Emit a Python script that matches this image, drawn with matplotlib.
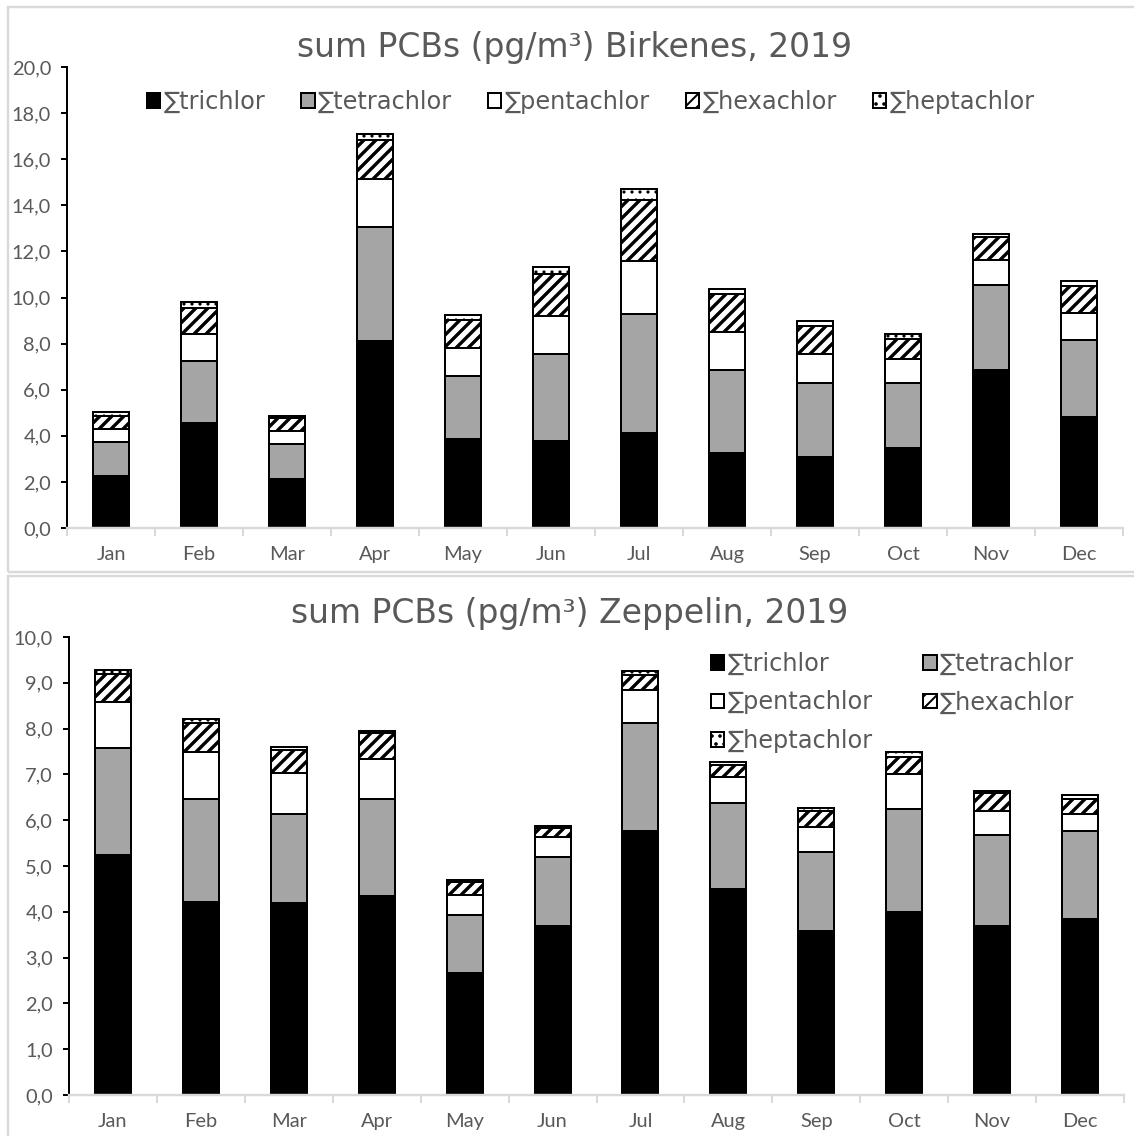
import matplotlib
matplotlib.use('Agg')
import matplotlib.pyplot as plt
from matplotlib.patches import Rectangle
from matplotlib.ticker import FuncFormatter, MultipleLocator

months = ['Jan', 'Feb', 'Mar', 'Apr', 'May', 'Jun', 'Jul', 'Aug', 'Sep', 'Oct', 'Nov', 'Dec']
series_names = ['∑trichlor', '∑tetrachlor', '∑pentachlor', '∑hexachlor', '∑heptachlor']

# Birkenes 2019 (pg/m3)
birkenes_trichlor = [2.27, 4.54, 2.13, 8.10, 3.85, 3.79, 4.13, 3.27, 3.09, 3.46, 6.85, 4.83]
birkenes_tetrachlor = [1.45, 2.70, 1.51, 4.97, 2.74, 3.76, 5.15, 3.58, 3.21, 2.82, 3.71, 3.33]
birkenes_pentachlor = [0.58, 1.17, 0.58, 2.09, 1.23, 1.65, 2.32, 1.64, 1.23, 1.07, 1.07, 1.15]
birkenes_hexachlor = [0.57, 1.15, 0.57, 1.67, 1.20, 1.84, 2.63, 1.66, 1.25, 0.85, 0.98, 1.20]
birkenes_heptachlor = [0.18, 0.23, 0.07, 0.26, 0.23, 0.29, 0.49, 0.23, 0.21, 0.22, 0.14, 0.21]

# Zeppelin 2019 (pg/m3)
zeppelin_trichlor = [5.25, 4.22, 4.19, 4.35, 2.66, 3.70, 5.77, 4.50, 3.57, 3.99, 3.70, 3.84]
zeppelin_tetrachlor = [2.32, 2.24, 1.95, 2.11, 1.26, 1.49, 2.35, 1.87, 1.74, 2.25, 1.98, 1.92]
zeppelin_pentachlor = [1.01, 1.03, 0.88, 0.88, 0.45, 0.44, 0.72, 0.58, 0.55, 0.76, 0.52, 0.37]
zeppelin_hexachlor = [0.61, 0.63, 0.51, 0.57, 0.27, 0.21, 0.33, 0.26, 0.33, 0.39, 0.39, 0.33]
zeppelin_heptachlor = [0.09, 0.09, 0.06, 0.04, 0.05, 0.04, 0.09, 0.07, 0.08, 0.09, 0.05, 0.08]

W, H, DPI = 1134, 1136, 144
TEXT_GREY = '#595959'
LINE_GREY = '#d9d9d9'

# facecolor, hatch, hatch linewidth
styles = [('black', None, 1.0), ('#a5a5a5', None, 1.0), ('white', None, 1.0),
          ('white', '////', 1.7), ('white', '...', 0.8)]


def draw_station(ax, data, ymax, ystep):
    bottom = [0.0] * len(months)
    x = range(len(months))
    handles = []
    for name, values, (fc, hatch, hlw) in zip(series_names, data, styles):
        with plt.rc_context({'hatch.linewidth': hlw}):
            bars = ax.bar(x, values, width=0.41, bottom=bottom, color=fc, hatch=hatch,
                          edgecolor='black', linewidth=1.0, label=name, zorder=2)
        handles.append(bars)
        bottom = [b + v for b, v in zip(bottom, values)]

    ax.set_xlim(-0.5, len(months) - 0.5)
    ax.set_ylim(0, ymax)
    ax.yaxis.set_major_locator(MultipleLocator(ystep))
    ax.yaxis.set_major_formatter(FuncFormatter(lambda v, p: f'{v:.1f}'.replace('.', ',')))
    ax.tick_params(axis='y', direction='out', length=3, width=1, color='black',
                   labelsize=10, labelcolor=TEXT_GREY, pad=5)

    # category boundaries carry the tick marks, centres carry the labels
    ax.set_xticks([i - 0.5 for i in range(len(months) + 1)])
    ax.set_xticklabels([])
    ax.set_xticks(list(x), months, minor=True)
    ax.tick_params(axis='x', which='major', direction='out', length=4, width=1, color=LINE_GREY)
    ax.tick_params(axis='x', which='minor', length=0, labelsize=10, labelcolor=TEXT_GREY, pad=9)

    for side in ['top', 'right']:
        ax.spines[side].set_visible(False)
    ax.spines['left'].set_linewidth(1.0)
    ax.spines['left'].set_color('black')
    ax.spines['bottom'].set_linewidth(1.2)
    ax.spines['bottom'].set_color(LINE_GREY)
    ax.spines['bottom'].set_zorder(3)
    for lab in ax.get_xticklabels(minor=True) + ax.get_yticklabels():
        lab.set_fontfamily('Lato')
    return handles


plt.rcParams['font.family'] = ['DejaVu Sans']
fig = plt.figure(figsize=(W / DPI, H / DPI), dpi=DPI)

# light grey chart frames
fig.add_artist(Rectangle((8 / W, 1 - 572 / H), 1.2, (572 - 7) / H, transform=fig.transFigure,
                         fill=False, edgecolor=LINE_GREY, linewidth=1.2))
fig.add_artist(Rectangle((8 / W, -0.1), 1.2, 0.1 + (1136 - 576) / H, transform=fig.transFigure,
                         fill=False, edgecolor=LINE_GREY, linewidth=1.2))

ax1 = fig.add_axes([67 / W, 1 - 528 / H, (1123 - 67) / W, (528 - 67) / H])
h1 = draw_station(ax1, [birkenes_trichlor, birkenes_tetrachlor, birkenes_pentachlor,
                        birkenes_hexachlor, birkenes_heptachlor], 20, 2)
fig.text(575 / W, 1 - 48 / H, 'sum PCBs (pg/m³) Birkenes, 2019', ha='center', va='center',
         fontsize=16.5, color=TEXT_GREY)
fig.legend(h1, series_names, loc='center', bbox_to_anchor=(591 / W, 1 - 102 / H), ncol=5,
           frameon=False, fontsize=12, handlelength=0.55, handleheight=0.55, handletextpad=0.15,
           columnspacing=1.5, borderpad=0, labelcolor=TEXT_GREY)

ax2 = fig.add_axes([69 / W, 1 - 1095 / H, (1124 - 69) / W, (1095 - 637) / H])
h2 = draw_station(ax2, [zeppelin_trichlor, zeppelin_tetrachlor, zeppelin_pentachlor,
                        zeppelin_hexachlor, zeppelin_heptachlor], 10, 1)
fig.text(570 / W, 1 - 614 / H, 'sum PCBs (pg/m³) Zeppelin, 2019', ha='center', va='center',
         fontsize=16.5, color=TEXT_GREY)
order = [0, 2, 4, 1, 3]  # row-wise filling of a two-column legend
fig.legend([h2[i] for i in order], [series_names[i] for i in order], loc='upper left',
           bbox_to_anchor=(699 / W, 1 - 640 / H), ncol=2, frameon=False, fontsize=12,
           handlelength=0.55, handleheight=0.55, handletextpad=0.15, columnspacing=2.1,
           labelspacing=0.6, borderpad=0, labelcolor=TEXT_GREY)

fig.savefig('out.png', dpi=DPI)
